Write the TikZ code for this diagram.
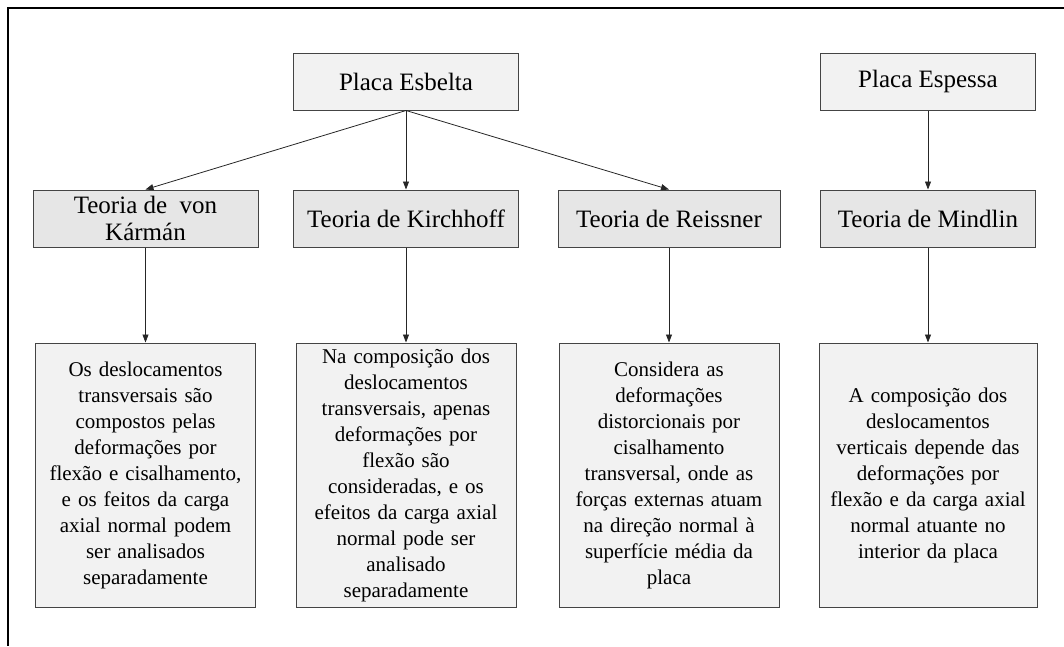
\documentclass[tikz,border=0pt]{standalone}
\usepackage{fontspec}
\setmainfont{Liberation Serif}
\usetikzlibrary{arrows.meta}
\definecolor{cinzaclaro}{HTML}{F2F2F2}
\definecolor{cinzamedio}{HTML}{E6E6E6}
\definecolor{borda}{HTML}{444444}
\begin{document}
\begin{tikzpicture}[x=1pt,y=-1pt,
    caixa/.style={draw=borda,line width=1pt,fill=cinzaclaro,minimum width=225pt,
      minimum height=57pt,inner sep=2pt,align=center,font=\fontsize{25}{28}\selectfont},
    teoria/.style={caixa,fill=cinzamedio},
    texto/.style={caixa,minimum width=220pt,minimum height=264pt,text width=214pt,
      font=\fontsize{21}{26}\selectfont},
    seta/.style={-{Triangle[length=8pt,width=6pt]},line width=0.8pt,draw=black!85}]
    \useasboundingbox (0,0) rectangle (1064,646);

    % moldura
    \draw[line width=2pt] (1064,8) -- (8,8) -- (8,646);

    % placas
    \node[caixa] (esbelta) at (406,81.5) {Placa Esbelta};
    \node[caixa,minimum width=215pt] (espessa) at (928,81.5) {Placa Espessa};

    % teorias
    \node[teoria] (karman) at (145.5,218.5) {Teoria de~~von\\[-1pt]Kármán};
    \node[teoria] (kirchhoff) at (406,218.5) {Teoria de Kirchhoff};
    \node[teoria,minimum width=222pt] (reissner) at (669,218.5) {Teoria de Reissner};
    \node[teoria,minimum width=215pt] (mindlin) at (928,218.5) {Teoria de Mindlin};

    % descricoes
    \node[texto] (dkarman) at (145.5,475) {Os deslocamentos\\transversais são\\compostos pelas\\deformações por\\flexão e cisalhamento,\\e os feitos da carga\\axial normal podem\\ser analisados\\separadamente};
    \node[texto] (dkirchhoff) at (406,475) {Na composição dos\\deslocamentos\\transversais, apenas\\deformações por\\flexão são\\consideradas, e os\\efeitos da carga axial\\normal pode ser\\analisado\\separadamente};
    \node[texto] (dreissner) at (669,475) {Considera as\\deformações\\distorcionais por\\cisalhamento\\transversal, onde as\\forças externas atuam\\na direção normal à\\superfície média da\\placa};
    \node[texto,minimum width=215pt] (dmindlin) at (928,475) {A composição dos\\deslocamentos\\verticais depende das\\deformações por\\flexão e da carga axial\\normal atuante no\\interior da placa};

    % setas
    \draw[seta] (esbelta.south) -- (karman.north);
    \draw[seta] (esbelta.south) -- (kirchhoff.north);
    \draw[seta] (esbelta.south) -- (reissner.north);
    \draw[seta] (espessa) -- (mindlin);
    \draw[seta] (karman) -- (dkarman);
    \draw[seta] (kirchhoff) -- (dkirchhoff);
    \draw[seta] (reissner) -- (dreissner);
    \draw[seta] (mindlin) -- (dmindlin);
\end{tikzpicture}
\end{document}
